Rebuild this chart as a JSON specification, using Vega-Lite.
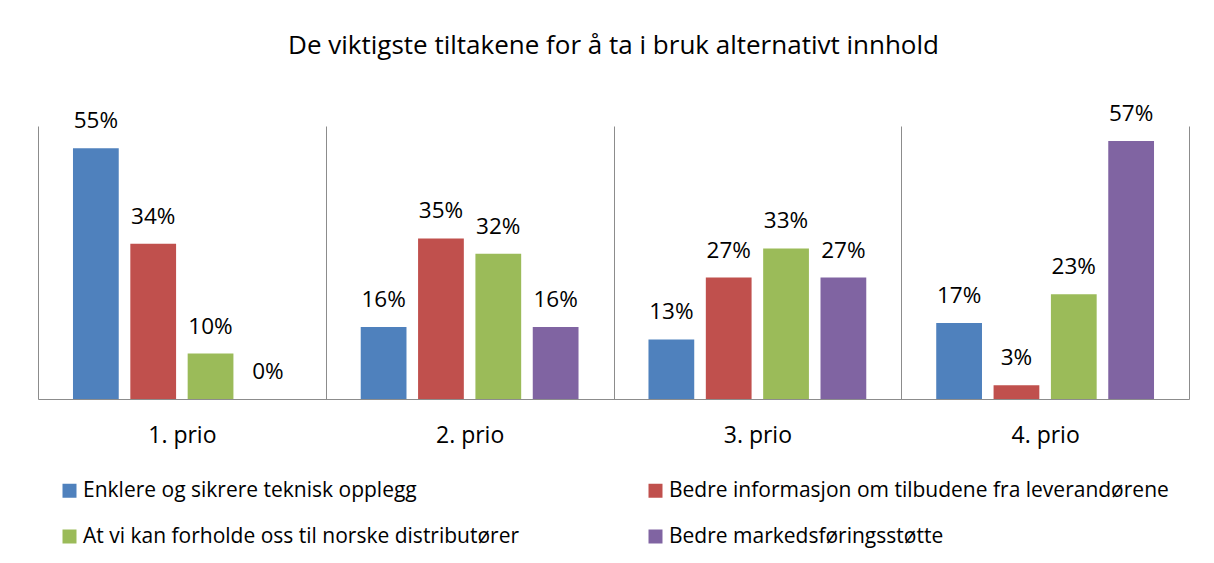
{
  "$schema": "https://vega.github.io/schema/vega-lite/v6.json",
  "autosize": "none",
  "width": 1151,
  "height": 273,
  "padding": {"left": 38, "top": 126, "right": 25, "bottom": 164},
  "background": "white",
  "config": {
    "font": "Open Sans",
    "view": {"stroke": null}
  },
  "title": {
    "text": "De viktigste tiltakene for å ta i bruk alternativt innhold",
    "fontSize": 26,
    "fontWeight": "normal",
    "color": "#000000",
    "anchor": "middle",
    "frame": "group",
    "baseline": "alphabetic",
    "offset": 23
  },
  "data": {
    "values": [
      {"prio": "1. prio", "tiltak": "Enklere og sikrere teknisk opplegg", "andel": 0.551},
      {"prio": "1. prio", "tiltak": "Bedre informasjon om tilbudene fra leverandørene", "andel": 0.341},
      {"prio": "1. prio", "tiltak": "At vi kan forholde oss til norske distributører", "andel": 0.100},
      {"prio": "1. prio", "tiltak": "Bedre markedsføringsstøtte", "andel": 0.0},
      {"prio": "2. prio", "tiltak": "Enklere og sikrere teknisk opplegg", "andel": 0.158},
      {"prio": "2. prio", "tiltak": "Bedre informasjon om tilbudene fra leverandørene", "andel": 0.353},
      {"prio": "2. prio", "tiltak": "At vi kan forholde oss til norske distributører", "andel": 0.319},
      {"prio": "2. prio", "tiltak": "Bedre markedsføringsstøtte", "andel": 0.158},
      {"prio": "3. prio", "tiltak": "Enklere og sikrere teknisk opplegg", "andel": 0.131},
      {"prio": "3. prio", "tiltak": "Bedre informasjon om tilbudene fra leverandørene", "andel": 0.267},
      {"prio": "3. prio", "tiltak": "At vi kan forholde oss til norske distributører", "andel": 0.331},
      {"prio": "3. prio", "tiltak": "Bedre markedsføringsstøtte", "andel": 0.267},
      {"prio": "4. prio", "tiltak": "Enklere og sikrere teknisk opplegg", "andel": 0.167},
      {"prio": "4. prio", "tiltak": "Bedre informasjon om tilbudene fra leverandørene", "andel": 0.030},
      {"prio": "4. prio", "tiltak": "At vi kan forholde oss til norske distributører", "andel": 0.230},
      {"prio": "4. prio", "tiltak": "Bedre markedsføringsstøtte", "andel": 0.567}
    ]
  },
  "encoding": {
    "x": {
      "field": "prio",
      "type": "nominal",
      "scale": {"paddingInner": 0, "paddingOuter": 0},
      "axis": {
        "title": null,
        "labelAngle": 0,
        "labelFontSize": 23,
        "labelColor": "#000000",
        "labelPadding": 43,
        "labelBaseline": "alphabetic",
        "ticks": false,
        "tickBand": "extent",
        "grid": true,
        "gridColor": "#8c8c8c",
        "gridWidth": 1,
        "domainColor": "#8c8c8c",
        "domainWidth": 1
      }
    },
    "xOffset": {
      "field": "tiltak",
      "type": "nominal",
      "sort": [
        "Enklere og sikrere teknisk opplegg",
        "Bedre informasjon om tilbudene fra leverandørene",
        "At vi kan forholde oss til norske distributører",
        "Bedre markedsføringsstøtte"
      ],
      "scale": {"paddingInner": 0.202, "paddingOuter": 0.61}
    },
    "y": {
      "field": "andel",
      "type": "quantitative",
      "scale": {"domain": [0, 0.6], "nice": false},
      "axis": null
    }
  },
  "layer": [
    {
      "mark": {"type": "bar"},
      "encoding": {
        "color": {
          "field": "tiltak",
          "type": "nominal",
          "sort": [
            "Enklere og sikrere teknisk opplegg",
            "Bedre informasjon om tilbudene fra leverandørene",
            "At vi kan forholde oss til norske distributører",
            "Bedre markedsføringsstøtte"
          ],
          "scale": {"range": ["#4F81BD", "#C0504D", "#9BBB59", "#8064A2"]},
          "legend": {
            "title": null,
            "orient": "none",
            "direction": "horizontal",
            "legendX": 21,
            "legendY": 354,
            "columns": 2,
            "gridAlign": "all",
            "columnPadding": 62,
            "rowPadding": 24,
            "symbolType": "square",
            "symbolSize": 196,
            "symbolStrokeWidth": 0,
            "symbolOffset": 0,
            "labelFontSize": 21,
            "labelColor": "#000000",
            "labelOffset": 3,
            "labelLimit": 0
          }
        }
      }
    },
    {
      "mark": {"type": "text", "baseline": "alphabetic", "dy": -20, "fontSize": 22.5, "color": "#000000"},
      "encoding": {
        "text": {"field": "andel", "type": "quantitative", "format": ".0%"}
      }
    }
  ]
}
